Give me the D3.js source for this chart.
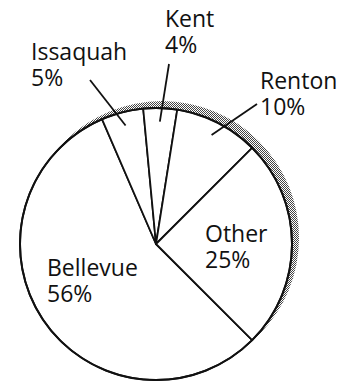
<!DOCTYPE html>
<html>
<head>
<meta charset="utf-8">
<script src="https://cdn.jsdelivr.net/npm/d3@7"></script>
<style>
  html, body { margin: 0; padding: 0; background: #fff; }
  svg { display: block; }
  text { font-family: "Open Sans", "Noto Sans", sans-serif; font-size: 23px; fill: #111; }
</style>
</head>
<body>
<script>
// Share of residents by city
const cities = ["Bellevue", "Issaquah", "Kent", "Renton", "Other"];
const shares = [56, 5, 4, 10, 25];

// Label placement: text origin and, for outside labels, where the leader line ends
const labelLayout = {
  Bellevue: { x: 47,  y: 276 },
  Issaquah: { x: 31,  y: 60,  lead: [90, 80] },
  Kent:     { x: 165, y: 27,  lead: [169, 64] },
  Renton:   { x: 260, y: 89,  lead: [257, 104] },
  Other:    { x: 205, y: 242 }
};

const width = 347, height = 381;
const cx = 156, cy = 244, r = 136;

const svg = d3.select("body").append("svg")
  .attr("width", width).attr("height", height);

// halftone dot fill for the drop shadow
const defs = svg.append("defs");
const pat = defs.append("pattern")
  .attr("id", "halftone").attr("patternUnits", "userSpaceOnUse")
  .attr("width", 2).attr("height", 2);
pat.append("rect").attr("width", 2).attr("height", 2).attr("fill", "#fff");
pat.append("rect").attr("x", 0).attr("y", 0).attr("width", 1).attr("height", 1).attr("fill", "#444");
pat.append("rect").attr("x", 1).attr("y", 1).attr("width", 1).attr("height", 1).attr("fill", "#444");

const data = cities.map((c, i) => ({ city: c, value: shares[i] }));

const pie = d3.pie()
  .value(d => d.value)
  .sort(null)
  .startAngle(Math.PI * 3 / 4)
  .endAngle(Math.PI * 3 / 4 + Math.PI * 2);

const arcs = pie(data);
const arc = d3.arc().innerRadius(0).outerRadius(r);

// shadow disc, offset up and to the right
svg.append("circle")
  .attr("cx", cx + 6).attr("cy", cy - 6).attr("r", r + 1)
  .attr("fill", "url(#halftone)");

const g = svg.append("g").attr("transform", `translate(${cx},${cy})`);

g.selectAll("path.slice")
  .data(arcs)
  .join("path")
  .attr("class", "slice")
  .attr("d", arc)
  .attr("fill", "#fff")
  .attr("stroke", "#111")
  .attr("stroke-width", 1.8)
  .attr("stroke-linejoin", "round");

// outer rim a touch heavier
g.append("circle").attr("r", r)
  .attr("fill", "none").attr("stroke", "#111").attr("stroke-width", 2);

// leader lines from inside the slice out to the label
const innerArc = d3.arc().innerRadius(r * 0.9).outerRadius(r * 0.9);
arcs.forEach(a => {
  const lay = labelLayout[a.data.city];
  if (!lay.lead) return;
  const [px, py] = innerArc.centroid(a);
  svg.append("line")
    .attr("x1", cx + px).attr("y1", cy + py)
    .attr("x2", lay.lead[0]).attr("y2", lay.lead[1])
    .attr("stroke", "#111").attr("stroke-width", 1.8);
});

// two-line labels: name, then percentage
arcs.forEach(a => {
  const lay = labelLayout[a.data.city];
  svg.append("text").attr("x", lay.x).attr("y", lay.y).text(a.data.city);
  svg.append("text").attr("x", lay.x).attr("y", lay.y + 26).text(a.data.value + "%");
});
</script>
</body>
</html>
